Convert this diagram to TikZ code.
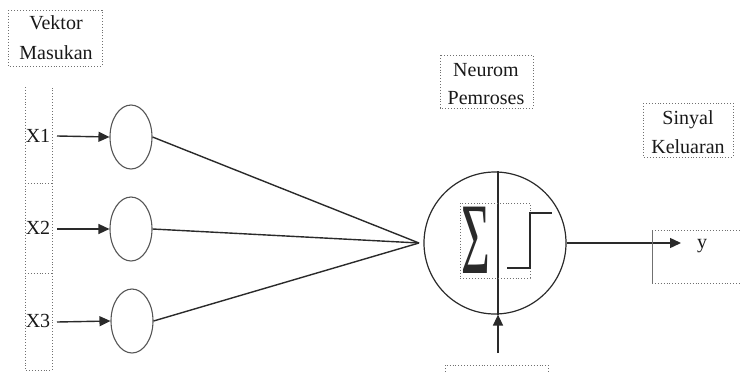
\documentclass[tikz,border=0pt]{standalone}
\usepackage{fontspec}
\setmainfont{Liberation Serif}
\usetikzlibrary{arrows.meta,shapes.geometric}
\definecolor{ln}{HTML}{2A2A2A}
\definecolor{ol}{HTML}{555555}
\definecolor{bx}{HTML}{707070}
\tikzset{
  lbl/.style={anchor=base,inner sep=0pt,font=\fontsize{20}{24}\selectfont,text=black!90},
  dotbox/.style={draw=bx,dotted,line width=0.9pt},
  conn/.style={draw=ln,line width=1.4pt},
  arr/.style={conn,-{Triangle[length=11pt,width=10pt]}},
  inell/.style={draw=ol,line width=1.1pt,ellipse,minimum width=42pt,minimum height=64pt,inner sep=0pt},
}
\begin{document}
\begin{tikzpicture}[x=1pt,y=-1pt]
\useasboundingbox (0,0) rectangle (741,372);
% Vektor Masukan
\draw[dotbox] (8,10) rectangle (102,66);
\node[lbl] (vk1) at (56,29) {Vektor};
\node[lbl] (vk2) at (56,59) {Masukan};
% input column
\draw[dotbox] (25,87) -- (25,370) -- (52,370) -- (52,87);
\draw[dotbox] (25,183) -- (52,183);
\draw[dotbox] (25,273) -- (52,273);
\node[lbl] (x1) at (38,142) {X1};
\node[lbl] (x2) at (38,234) {X2};
\node[lbl] (x3) at (38,327) {X3};
% input ellipses
\node[inell] (e1) at (131,137) {};
\node[inell] (e2) at (131,229) {};
\node[inell] (e3) at (132,321) {};
\coordinate (a1) at (57,136);
\coordinate (a2) at (57,229);
\coordinate (a3) at (57,322);
\draw[arr] (a1) -- (e1.west);
\draw[arr] (a2) -- (e2.west);
\draw[arr] (a3) -- (e3.west);
% neuron
\node[circle,draw=ln,line width=1.2pt,minimum size=142pt,inner sep=0pt] (N) at (495,243) {};
\coordinate (conv) at (419,243);
\draw[conn] (e1.east) -- (conv);
\draw[conn] (e2.east) -- (conv);
\draw[conn] (e3.east) -- (conv);
\draw[conn,line width=1.2pt] ([xshift=3pt]N.north) -- ([xshift=3pt]N.south);
\coordinate (bin) at (498,353);
\draw[arr] (bin) -- ([xshift=3pt]N.south);
% inner dotted box, sigma, step
\draw[dotbox] (460,203) rectangle (530,278);
\node[inner sep=0pt,font=\fontsize{52}{52}\selectfont,xscale=0.95,yscale=1.95,text=ln] (sig) at (476,240) {Σ};
\draw[conn] (507,268) -- (530,268) -- (530,213) -- (552,213);
% Neurom Pemroses
\draw[dotbox] (440,55) rectangle (533,108);
\node[lbl] (np1) at (486,76) {Neurom};
\node[lbl] (np2) at (486,104) {Pemroses};
% Sinyal Keluaran
\draw[dotbox] (643,103) rectangle (733,157);
\node[lbl] (sk1) at (688,124) {Sinyal};
\node[lbl] (sk2) at (688,153) {Keluaran};
% output
\coordinate (yout) at (681,243);
\draw[arr] (N.east) -- (yout);
\draw[dotbox] (652,230) -- (741,230);
\draw[dotbox] (652,283) -- (741,283);
\draw[draw=bx,line width=0.9pt] (652,230) -- (652,283);
\node[lbl] (y) at (702,248) {y};
% bias box (cut off)
\draw[dotbox] (445,372) -- (445,365) -- (548,365) -- (548,372);
\end{tikzpicture}
\end{document}
